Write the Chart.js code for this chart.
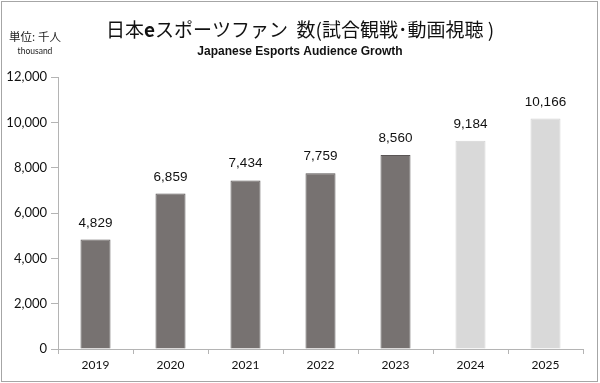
<!DOCTYPE html>
<html>
<head>
<meta charset="utf-8">
<script src="https://cdn.jsdelivr.net/npm/chart.js@4/dist/chart.umd.min.js"></script>
<style>
html,body{margin:0;padding:0;background:#fff;}
#wrap{width:600px;height:383px;position:relative;}
</style>
</head>
<body>
<div id="wrap"><canvas id="c" width="600" height="383"></canvas></div>
<script>
const categories = ['2019','2020','2021','2022','2023','2024','2025'];
const audience = [4829, 6859, 7434, 7759, 8560, 9184, 10166];
const isForecast = [false, false, false, false, false, true, true];
const yTicks = [0, 2000, 4000, 6000, 8000, 10000, 12000];
const titleParts = [['日本', false], ['e', true], ['スポーツファン  数(試合観戦', false], ['･', false], ['動画視聴 )', false]];
const subtitle = 'Japanese Esports Audience Growth';
const unitLine1 = '単位: 千人';
const unitLine2 = 'thousand';

const darkFill = '#777271', darkBorder = '#5a5555';
const lightFill = '#d9d9d9', lightBorder = '#d3d3d3';
const axisColor = '#b4b4b4';

const decorPlugin = {
  id: 'decor',
  beforeDraw(chart) {
    const ctx = chart.ctx;
    ctx.save();
    ctx.fillStyle = '#fff';
    ctx.fillRect(0, 0, chart.width, chart.height);
    ctx.restore();
  },
  afterDraw(chart) {
    const ctx = chart.ctx;
    ctx.save();
    ctx.strokeStyle = '#a6a6a6';
    ctx.lineWidth = 1;
    ctx.strokeRect(1.5, 1.5, 596, 380);
    ctx.fillStyle = '#111';
    ctx.textBaseline = 'middle';
    const fonts = titleParts.map(p => (p[1] ? 'bold ' : '') + '19px "Noto Sans CJK JP"');
    let total = 0;
    const widths = titleParts.map((p, i) => { ctx.font = fonts[i]; const w = ctx.measureText(p[0]).width; total += w; return w; });
    let x = 300 - total / 2;
    ctx.textAlign = 'left';
    titleParts.forEach((p, i) => { ctx.font = fonts[i]; ctx.fillText(p[0], x, 30); x += widths[i]; });
    ctx.textAlign = 'center';
    ctx.font = 'bold 12px "Liberation Sans"';
    ctx.fillText(subtitle, 300, 52);
    ctx.font = '11.5px "Noto Sans CJK JP"';
    ctx.fillStyle = '#222';
    ctx.fillText(unitLine1, 35, 37);
    ctx.font = '8.5px Lato';
    ctx.fillText(unitLine2, 35, 51);
    const meta = chart.getDatasetMeta(0);
    ctx.font = '13.5px "Liberation Sans"';
    ctx.fillStyle = '#111';
    ctx.textBaseline = 'alphabetic';
    meta.data.forEach((bar, i) => {
      ctx.fillText(audience[i].toLocaleString('en-US'), bar.x, bar.y - 13);
    });
    ctx.restore();
  }
};

new Chart(document.getElementById('c'), {
  type: 'bar',
  data: {
    labels: categories,
    datasets: [{
      data: audience,
      backgroundColor: isForecast.map(f => f ? lightFill : darkFill),
      borderColor: isForecast.map(f => f ? lightBorder : darkBorder),
      borderWidth: 1,
      categoryPercentage: 1,
      barPercentage: 0.4
    }]
  },
  options: {
    responsive: false,
    animation: false,
    layout: { padding: { top: 77, right: 17, left: 0, bottom: 0 } },
    plugins: { legend: { display: false }, tooltip: { enabled: false }, title: { display: false } },
    scales: {
      x: {
        afterFit(s) { s.height = 34; },
        grid: { drawOnChartArea: false, drawTicks: true, tickLength: 5, color: axisColor, offset: true },
        border: { color: axisColor },
        ticks: { font: { family: 'Lato', size: 12 }, color: '#111', padding: 4 }
      },
      y: {
        min: 0, max: 12000,
        afterFit(s) { s.width = 58; },
        afterBuildTicks(s) { s.ticks = yTicks.map(v => ({ value: v })); },
        grid: { drawOnChartArea: false, drawTicks: true, tickLength: 7, color: axisColor },
        border: { color: axisColor },
        ticks: { font: { family: 'Lato', size: 13 }, color: '#111', padding: 4,
          callback: v => v.toLocaleString('en-US') }
      }
    }
  },
  plugins: [decorPlugin]
});
</script>
</body>
</html>
